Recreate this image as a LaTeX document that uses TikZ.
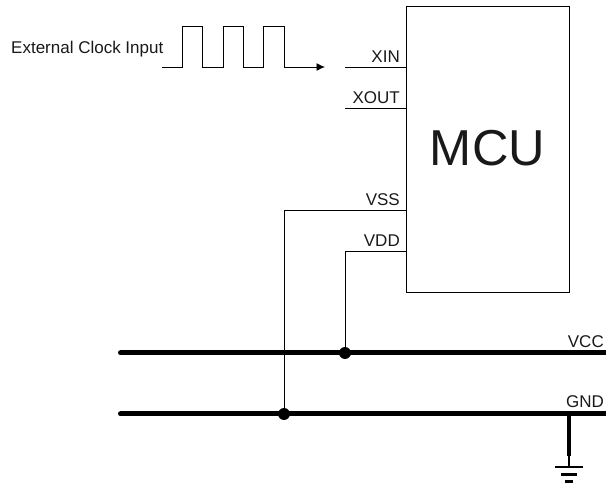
\documentclass[tikz,border=0pt]{standalone}
\usepackage{fontspec}
\setmainfont{Liberation Sans}
\usetikzlibrary{arrows.meta,calc}
\tikzset{
  wire/.style={draw=black,line width=0.9pt},
  bus/.style={draw=black,line width=5pt},
  junction/.style={circle,fill=black,inner sep=0pt,minimum size=12pt},
  lbl/.style={inner sep=0pt,font=\fontsize{17}{19}\selectfont,text=black!90},
  pinlbl/.style={lbl,anchor=base east},
  icbox/.style={draw=black,line width=0.9pt,minimum width=163pt,minimum height=286pt,inner sep=0pt,anchor=north west},
  gbar/.style={draw=black,line width=2.2pt}
}
\begin{document}
\begin{tikzpicture}[x=1pt,y=-1pt]
\useasboundingbox (0,0) rectangle (606,486);
\node[icbox] (mcu) at (406,6) {};
\node[inner sep=0pt,font=\fontsize{50.5}{54}\selectfont,text=black!90] (mcutxt) at (487.5,148) {MCU};
% pin stubs
\coordinate (xinpin) at (406,67);
\coordinate (xoutpin) at (406,108);
\coordinate (vsspin) at (406,210);
\coordinate (vddpin) at (406,251);
\coordinate (xinend) at (345,67);
\coordinate (xoutend) at (345,108);
\draw[wire] (xinend) -- (xinpin);
\draw[wire] (xoutend) -- (xoutpin);
\node[pinlbl] (xinl) at (400,62.5) {XIN};
\node[pinlbl] (xoutl) at (400,103.5) {XOUT};
\node[pinlbl] (vssl) at (400,205.5) {VSS};
\node[pinlbl] (vddl) at (400,246.5) {VDD};
% clock
\node[lbl,anchor=base west] (clk) at (11,53.5) {External Clock Input};
\coordinate (clkstart) at (162,67);
\coordinate (clkend) at (325,67);
\draw[wire,-{Latex[length=8.5pt,width=8pt]}] (clkstart) -- (182,67) -- (182,26) -- (202,26) -- (202,67) -- (223,67) -- (223,26) -- (243,26) -- (243,67) -- (263,67) -- (263,26) -- (284,26) -- (284,67) -- (clkend);
% buses
\coordinate (vccl) at (120.5,353);
\coordinate (vccr) at (606,353);
\coordinate (gndl) at (120.5,414);
\coordinate (gndr) at (606,414);
\draw[bus,line cap=round] (vccl) -- (vccr);
\draw[bus,line cap=round] (gndl) -- (gndr);
\node[lbl,anchor=base east] (vcc) at (604,347.5) {VCC};
\node[lbl,anchor=base east] (gnd) at (604,408) {GND};
% junctions
\node[junction] (jvdd) at (345,353) {};
\node[junction] (jvss) at (284,414) {};
\draw[wire] (vsspin) -| (jvss);
\draw[wire] (vddpin) -| (jvdd);
% ground
\coordinate (gtap) at (569,414);
\coordinate (g1) at (569,467);
\draw[draw=black,line width=4.6pt] (gtap) -- (569,456);
\draw[draw=black,line width=2.8pt] (569,456) -- (g1);
\draw[gbar] (555,467) -- (583,467);
\draw[gbar] (561,474.5) -- (577,474.5);
\draw[gbar] (565,481.5) -- (573,481.5);
\end{tikzpicture}
\end{document}
